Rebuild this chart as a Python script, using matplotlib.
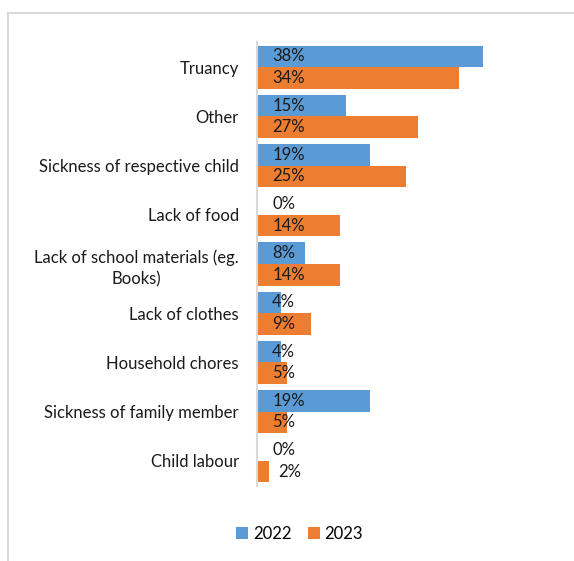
import matplotlib
matplotlib.use("Agg")
import matplotlib.pyplot as plt
from matplotlib.patches import Patch
from matplotlib.lines import Line2D
import numpy as np

categories = [
    "Truancy",
    "Other",
    "Sickness of respective child",
    "Lack of food",
    "Lack of school materials (eg.\nBooks)",
    "Lack of clothes",
    "Household chores",
    "Sickness of family member",
    "Child labour",
]
values_2022 = [38, 15, 19, 0, 8, 4, 4, 19, 0]
values_2023 = [34, 27, 25, 14, 14, 9, 5, 5, 2]
series_names = ["2022", "2023"]

BLUE = "#5B9BD5"
ORANGE = "#ED7D31"
GRID = "#D9D9D9"
TEXT = "#1A1A1A"
FS = 12

plt.rcParams["font.family"] = ["Lato", "DejaVu Sans"]

fig = plt.figure(figsize=(5.74, 5.61), dpi=100)
ax = fig.add_axes([0.4477, 0.1344, 0.4146, 0.79])

y = np.arange(len(categories))
h = 0.437
ax.barh(y - h / 2, values_2022, height=h, color=BLUE, label=series_names[0])
ax.barh(y + h / 2, values_2023, height=h, color=ORANGE, label=series_names[1])

ax.set_xlim(0, 40)
ax.set_ylim(len(categories) - 0.5, -0.5)

ax.set_yticks(y)
ax.set_yticklabels(categories, fontsize=FS, color=TEXT, multialignment="center",
                   linespacing=1.45)
ax.tick_params(axis="y", length=0, pad=13)
ax.set_xticks([])

for side in ("top", "right", "bottom"):
    ax.spines[side].set_visible(False)
ax.spines["left"].set_color(GRID)
ax.spines["left"].set_linewidth(1.5)

# value labels at the inside base of each bar
for i, (a, b) in enumerate(zip(values_2022, values_2023)):
    ax.annotate(f"{a}%", (0, i - h / 2), xytext=(11, 0), textcoords="offset points",
                ha="left", va="center", fontsize=FS, color=TEXT)
    off = 15 if b < 3 else 11
    ax.annotate(f"{b}%", (0, i + h / 2), xytext=(off, 0), textcoords="offset points",
                ha="left", va="center", fontsize=FS, color=TEXT)

handles = [Patch(facecolor=BLUE), Patch(facecolor=ORANGE)]
fig.legend(handles, series_names, loc="center", bbox_to_anchor=(0.522, 0.048), ncol=2,
           frameon=False, fontsize=FS, handlelength=0.7, handleheight=0.7,
           handletextpad=0.3, columnspacing=1.0)

# chart frame (left and top edges)
fig.add_artist(Line2D([7.5 / 574, 7.5 / 574], [0, 1 - 13 / 561], transform=fig.transFigure,
                      color=GRID, linewidth=1.5))
fig.add_artist(Line2D([7.5 / 574, 1], [1 - 13 / 561, 1 - 13 / 561], transform=fig.transFigure,
                      color=GRID, linewidth=1.5))

fig.savefig("out.png", dpi=100, facecolor="white")
